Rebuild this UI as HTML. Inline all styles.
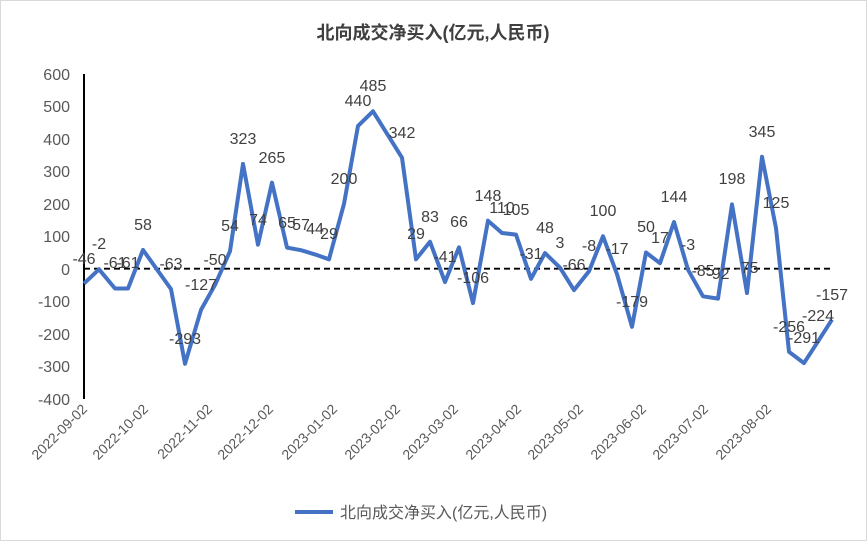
<!DOCTYPE html>
<html><head><meta charset="utf-8"><style>
html,body{margin:0;padding:0;background:#fff}
svg{display:block}
text{font-family:"Liberation Sans","Noto Sans CJK SC",sans-serif}
</style></head><body>
<svg width="867" height="541" viewBox="0 0 867 541" xmlns="http://www.w3.org/2000/svg">
<rect x="0.5" y="0.5" width="866" height="540" fill="#fff" stroke="#d9d9d9"/>
<text x="433" y="39" font-size="18" font-weight="bold" fill="#404040" text-anchor="middle">北向成交净买入(亿元,人民币)</text>
<g font-size="16" fill="#595959" text-anchor="end">
<text x="70" y="80">600</text><text x="70" y="112">500</text><text x="70" y="145">400</text><text x="70" y="177">300</text><text x="70" y="210">200</text><text x="70" y="242">100</text><text x="70" y="275">0</text><text x="70" y="307">-100</text><text x="70" y="340">-200</text><text x="70" y="372">-300</text><text x="70" y="405">-400</text>
</g>
<line x1="84" y1="74" x2="84" y2="399" stroke="#000" stroke-width="2"/>
<line x1="84" y1="268.7" x2="833" y2="268.7" stroke="#000" stroke-width="1.8" stroke-dasharray="6,4"/>
<g font-size="14" fill="#595959" text-anchor="end">
<text transform="translate(88,410) rotate(-45)">2022-09-02</text>
<text transform="translate(149,410) rotate(-45)">2022-10-02</text>
<text transform="translate(213,410) rotate(-45)">2022-11-02</text>
<text transform="translate(274,410) rotate(-45)">2022-12-02</text>
<text transform="translate(338,410) rotate(-45)">2023-01-02</text>
<text transform="translate(401,410) rotate(-45)">2023-02-02</text>
<text transform="translate(459,410) rotate(-45)">2023-03-02</text>
<text transform="translate(522,410) rotate(-45)">2023-04-02</text>
<text transform="translate(584,410) rotate(-45)">2023-05-02</text>
<text transform="translate(647,410) rotate(-45)">2023-06-02</text>
<text transform="translate(709,410) rotate(-45)">2023-07-02</text>
<text transform="translate(772,410) rotate(-45)">2023-08-02</text>
</g>
<polyline fill="none" stroke="#4472c4" stroke-width="4" stroke-linejoin="round" points="84,283.6 99,269.3 115,288.5 128,288.5 143,249.9 171,289.1 185,363.8 201,309.9 215,284.9 230,251.2 243,163.9 258,244.7 272,182.7 287,247.6 301,250.2 315,254.4 329,259.3 344,203.8 358,125.9 373,111.3 402,157.7 416,259.3 430,241.8 445,282 459,247.3 473,303.1 488,220.7 502,233 516,234.6 531,278.8 545,253.1 560,267.7 574,290.1 589,271.3 603,236.2 617,274.2 632,326.8 646,252.5 660,263.2 674,222 688,269.7 703,296.3 718,298.6 732,204.4 747,293 762,156.8 776,228.1 789,351.8 804,363.1 818,341.4 832,319.6"/>
<g font-size="16" fill="#404040" text-anchor="middle">
<text x="84" y="264">-46</text><text x="99" y="249">-2</text><text x="115" y="268">-61</text><text x="128" y="268">-61</text><text x="143" y="230">58</text><text x="171" y="269">-63</text><text x="185" y="344">-293</text><text x="201" y="290">-127</text><text x="215" y="265">-50</text><text x="230" y="231">54</text><text x="243" y="144">323</text><text x="258" y="225">74</text><text x="272" y="163">265</text><text x="287" y="228">65</text><text x="301" y="230">57</text><text x="315" y="234">44</text><text x="329" y="239">29</text><text x="344" y="184">200</text><text x="358" y="106">440</text><text x="373" y="91">485</text><text x="402" y="138">342</text><text x="416" y="239">29</text><text x="430" y="222">83</text><text x="445" y="262">-41</text><text x="459" y="227">66</text><text x="473" y="283">-106</text><text x="488" y="201">148</text><text x="502" y="213">110</text><text x="516" y="215">105</text><text x="531" y="259">-31</text><text x="545" y="233">48</text><text x="560" y="248">3</text><text x="574" y="270">-66</text><text x="589" y="251">-8</text><text x="603" y="216">100</text><text x="617" y="254">-17</text><text x="632" y="307">-179</text><text x="646" y="232">50</text><text x="660" y="243">17</text><text x="674" y="202">144</text><text x="688" y="250">-3</text><text x="703" y="276">-85</text><text x="718" y="279">-92</text><text x="732" y="184">198</text><text x="747" y="273">-75</text><text x="762" y="137">345</text><text x="776" y="208">125</text><text x="789" y="332">-256</text><text x="804" y="343">-291</text><text x="818" y="321">-224</text><text x="832" y="300">-157</text>
</g>
<line x1="295" y1="512" x2="333" y2="512" stroke="#4472c4" stroke-width="4"/>
<text x="340" y="518" font-size="16" fill="#595959">北向成交净买入(亿元,人民币)</text>
</svg>
</body></html>
